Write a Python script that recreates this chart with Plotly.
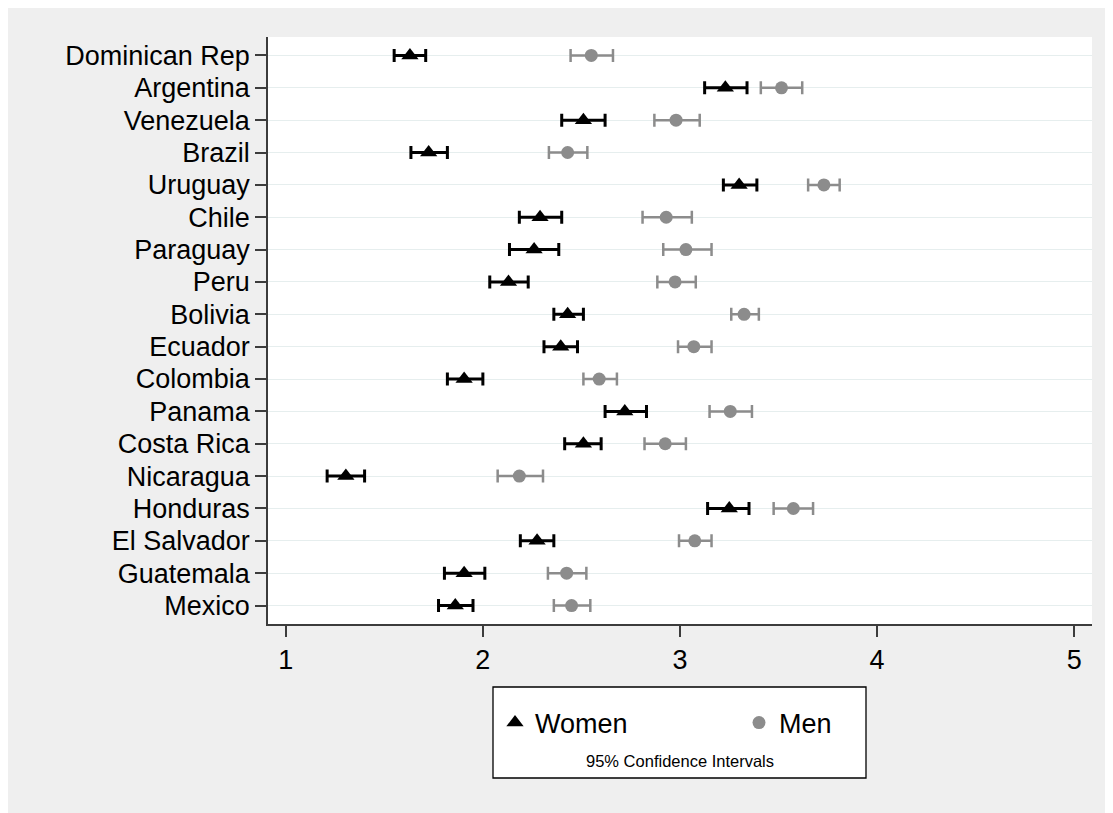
import plotly.graph_objects as go

countries = ["Dominican Rep", "Argentina", "Venezuela", "Brazil", "Uruguay", "Chile",
             "Paraguay", "Peru", "Bolivia", "Ecuador", "Colombia", "Panama",
             "Costa Rica", "Nicaragua", "Honduras", "El Salvador", "Guatemala", "Mexico"]

women_mean = [1.63, 3.23, 2.51, 1.725, 3.30, 2.29, 2.26, 2.13, 2.43, 2.395, 1.905, 2.72,
              2.51, 1.305, 3.25, 2.275, 1.905, 1.86]
women_lo = [1.55, 3.125, 2.40, 1.635, 3.22, 2.185, 2.135, 2.035, 2.36, 2.31, 1.82, 2.62,
            2.415, 1.21, 3.14, 2.19, 1.805, 1.775]
women_hi = [1.71, 3.34, 2.62, 1.82, 3.39, 2.40, 2.385, 2.23, 2.51, 2.48, 2.00, 2.83,
            2.60, 1.40, 3.35, 2.36, 2.01, 1.95]

men_mean = [2.55, 3.515, 2.98, 2.43, 3.73, 2.93, 3.03, 2.975, 3.325, 3.07, 2.59, 3.255,
            2.925, 2.185, 3.575, 3.075, 2.425, 2.45]
men_lo = [2.445, 3.41, 2.87, 2.335, 3.65, 2.81, 2.915, 2.885, 3.26, 2.99, 2.51, 3.15,
          2.82, 2.075, 3.475, 2.995, 2.33, 2.36]
men_hi = [2.66, 3.62, 3.10, 2.53, 3.81, 3.06, 3.16, 3.08, 3.40, 3.16, 2.68, 3.365,
          3.03, 2.305, 3.675, 3.16, 2.525, 2.545]

x_ticks = [1, 2, 3, 4, 5]
series_names = ["Women", "Men"]
note_text = "95% Confidence Intervals"

# page offset (body margin) of the figure inside the screenshot
OFF = 8
W, H = 1113 - OFF, 813 - OFF
ML, MR, MT, MB = 268 - OFF, W - (1092 - OFF), 37 - OFF, H - (624 - OFF)
PW, PH = W - ML - MR, H - MT - MB

def px_x(p):
    return (p - OFF - ML) / PW

def px_y(p):
    return (H - MB - (p - OFF)) / PH

FONT = "Liberation Sans, Arial, sans-serif"
MEN_COLOR = "#8c8c8c"
AXIS_COLOR = "#3c3c3c"

fig = go.Figure()

fig.add_trace(go.Scatter(
    x=women_mean, y=countries, mode="markers", name=series_names[0],
    marker=dict(symbol="triangle-up", size=15, color="black"),
    error_x=dict(type="data", symmetric=False,
                 array=[h - m for h, m in zip(women_hi, women_mean)],
                 arrayminus=[m - l for m, l in zip(women_mean, women_lo)],
                 color="black", thickness=3, width=6.5),
))
fig.add_trace(go.Scatter(
    x=men_mean, y=countries, mode="markers", name=series_names[1],
    marker=dict(symbol="circle", size=13, color=MEN_COLOR),
    error_x=dict(type="data", symmetric=False,
                 array=[h - m for h, m in zip(men_hi, men_mean)],
                 arrayminus=[m - l for m, l in zip(men_mean, men_lo)],
                 color=MEN_COLOR, thickness=2.5, width=6.5),
))

shapes = [
    dict(type="rect", xref="paper", yref="paper", x0=px_x(493), x1=px_x(866), y0=px_y(778), y1=px_y(687),
         fillcolor="white", line=dict(color="black", width=1.3), layer="below"),
]

fig.update_layout(
    width=W, height=H,
    margin=dict(l=ML, r=MR, t=MT, b=MB, autoexpand=False),
    paper_bgcolor="#efefef",
    plot_bgcolor="white",
    font=dict(family=FONT, size=27, color="black"),
    shapes=shapes,
    showlegend=True,
    legend=dict(orientation="h", x=px_x(495), xanchor="left", y=px_y(723), yanchor="middle",
                bgcolor="rgba(0,0,0,0)", borderwidth=0, entrywidth=199,
                font=dict(family=FONT, size=27, color="black")),
    annotations=[dict(text=note_text, xref="paper", yref="paper", x=px_x(680), y=px_y(761),
                      showarrow=False, xanchor="center", yanchor="middle",
                      font=dict(family=FONT, size=16.5, color="black"))],
    xaxis=dict(range=[0.91, 5.09], tickmode="array", tickvals=x_ticks,
               ticktext=[str(t) for t in x_ticks],
               showline=True, linecolor=AXIS_COLOR, linewidth=1.5,
               ticks="outside", ticklen=11, tickwidth=1.5, tickcolor=AXIS_COLOR,
               showgrid=False, zeroline=False,
               tickfont=dict(family=FONT, size=27, color="black")),
    yaxis=dict(type="category", categoryorder="array", categoryarray=countries[::-1],
               range=[-0.57, len(countries) - 1 + 0.57],
               showline=True, linecolor=AXIS_COLOR, linewidth=1.5,
               ticks="outside", ticklen=11, tickwidth=1.5, tickcolor=AXIS_COLOR,
               showgrid=True, gridcolor="#e6eeee", gridwidth=1, zeroline=False,
               tickfont=dict(family=FONT, size=27, color="black")),
)

fig.write_html("out.html")
